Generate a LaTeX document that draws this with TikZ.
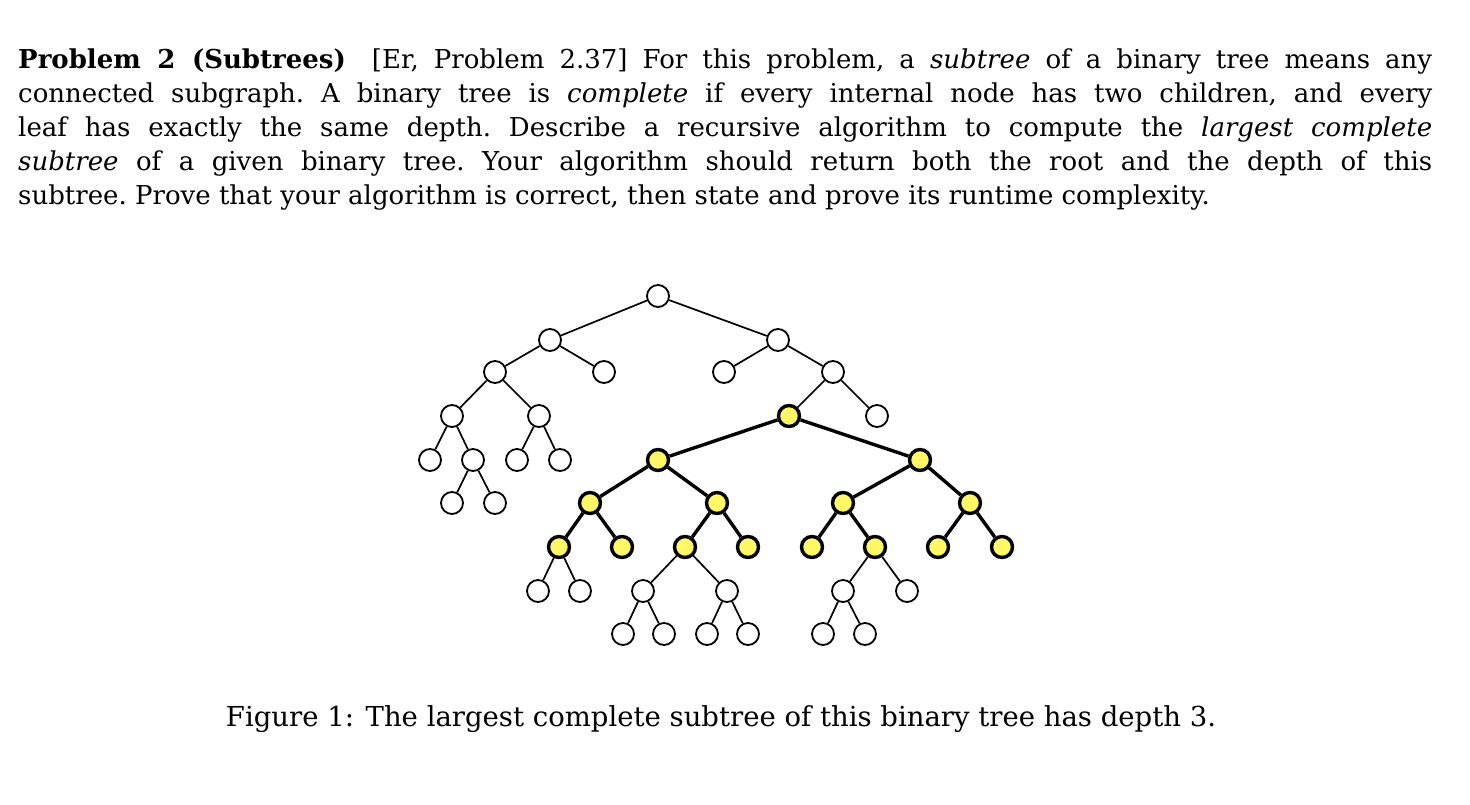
\documentclass[tikz,border=0pt]{standalone}
\usepackage{fontspec}
\setmainfont{DejaVu Serif}
\begin{document}
\begin{tikzpicture}[x=1pt,y=-1pt,
  wn/.style={circle,draw,fill=white,line width=1.8pt,minimum size=22pt,inner sep=0},
  yn/.style={circle,draw,fill=yellow!60,line width=3.4pt,minimum size=21pt,inner sep=0},
  te/.style={line width=1.7pt},
  ye/.style={line width=3.4pt}]
\useasboundingbox (0,0) rectangle (1470,804);
\node[anchor=north west,inner sep=0,text width=1414pt,align=justify,font=\fontsize{26}{34}\selectfont\frenchspacing] (txt) at (18,49)
{\textbf{Problem 2 (Subtrees)}\quad[Er, Problem 2.37] For this problem, a \textit{subtree} of a binary tree means any\linebreak
connected subgraph. A binary tree is \textit{complete} if every internal node has two children, and every\linebreak
leaf has exactly the same depth. Describe a recursive algorithm to compute the \textit{largest complete}\linebreak
\textit{subtree} of a given binary tree. Your algorithm should return both the root and the depth of this\linebreak
subtree. Prove that your algorithm is correct, then state and prove its runtime complexity.};
\node[anchor=base,inner sep=0,font=\fontsize{27.5}{34}\selectfont] (cap) at (721,726) {Figure 1: The largest complete subtree of this binary tree has depth 3.};
\foreach \n/\x/\y in {r/658/296, a/550/340, b/778/340, a1/495/372, a2/604/372, b1/724/372, b2/833/372,
  c1/452/416, c2/539/416, b22/877/416, d1/430/460, d2/473/460, d3/517/460, d4/560/460,
  e1/452/503, e2/495/503,
  f1/538/591, f2/580/591, g1/643/591, g2/727/591, h1/843/591, h2/907/591,
  i1/623/634, i2/664/634, j1/707/634, j2/748/634, k1/823/634, k2/865/634}
  \node[wn] (\n) at (\x,\y) {};
\foreach \n/\x/\y in {y/789/416, yl/658/460, yr/920/460, p1/590/503, p2/717/503, p3/843/503, p4/970/503,
  q1/559/547, q2/622/547, q3/685/547, q4/748/547, q5/812/547, q6/875/547, q7/938/547, q8/1002/547}
  \node[yn] (\n) at (\x,\y) {};
\foreach \u/\v in {r/a, r/b, a/a1, a/a2, b/b1, b/b2, a1/c1, a1/c2, b2/y, b2/b22, c1/d1, c1/d2, c2/d3, c2/d4,
  d2/e1, d2/e2, q1/f1, q1/f2, q3/g1, q3/g2, q6/h1, q6/h2, g1/i1, g1/i2, g2/j1, g2/j2, h1/k1, h1/k2}
  \draw[te] (\u) -- (\v);
\foreach \u/\v in {y/yl, y/yr, yl/p1, yl/p2, yr/p3, yr/p4, p1/q1, p1/q2, p2/q3, p2/q4, p3/q5, p3/q6, p4/q7, p4/q8}
  \draw[ye] (\u) -- (\v);
\end{tikzpicture}
\end{document}
